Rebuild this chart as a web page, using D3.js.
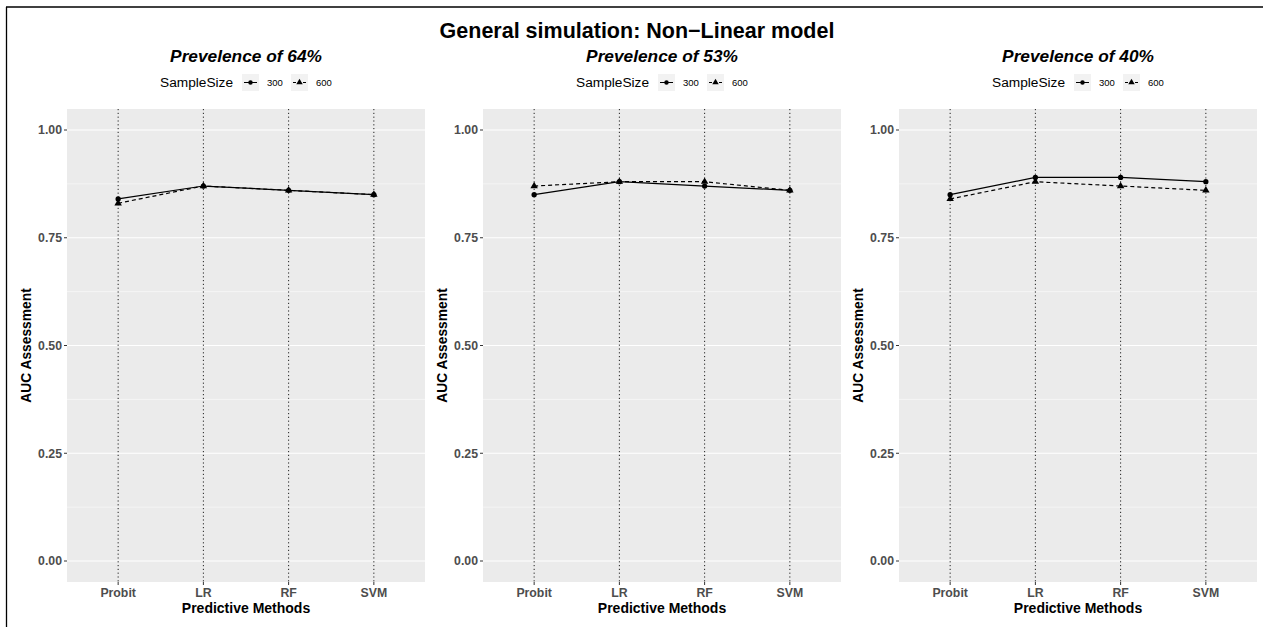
<!DOCTYPE html>
<html>
<head>
<meta charset="utf-8">
<script src="https://cdn.jsdelivr.net/npm/d3@7"></script>
<style>
    body { margin: 0; background: #fff; }
    svg text { font-family: "Liberation Sans", Arial, sans-serif; }
    .grid-major { stroke: #fff; stroke-width: 1.1; }
    .grid-minor { stroke: #fff; stroke-width: 0.5; }
    .vline { stroke: #222; stroke-width: 1; stroke-dasharray: 1.2 2.6; }
    .tick-label { font-size: 12.3px; font-weight: bold; fill: #4d4d4d; }
</style>
</head>
<body>
<div class="chart"></div>
<script>
    const methods = ["Probit", "LR", "RF", "SVM"];
    const panelTitles = ["Prevelence of 64%", "Prevelence of 53%", "Prevelence of 40%"];
    const sampleSizes = ["300", "600"];
    const yTicks = [0, 0.25, 0.5, 0.75, 1];

    // AUC per panel, per sample size
    const auc300 = [
        [0.84, 0.87, 0.86, 0.85],
        [0.85, 0.88, 0.87, 0.86],
        [0.85, 0.89, 0.89, 0.88]
    ];
    const auc600 = [
        [0.83, 0.87, 0.86, 0.85],
        [0.87, 0.88, 0.88, 0.86],
        [0.84, 0.88, 0.87, 0.86]
    ];

    (function () {
    const width = 1270, height = 627;
    const svg = d3.select(".chart").append("svg")
        .attr("width", width)
        .attr("height", height);

    // outer frame (top + left only)
    svg.append("line").attr("x1", 6).attr("x2", 1263).attr("y1", 7).attr("y2", 7)
        .attr("stroke", "#000").attr("stroke-width", 1.3);
    svg.append("line").attr("x1", 6.5).attr("x2", 6.5).attr("y1", 7).attr("y2", height)
        .attr("stroke", "#000").attr("stroke-width", 1.3);

    svg.append("text")
        .attr("x", 637).attr("y", 38)
        .attr("text-anchor", "middle")
        .style("font-size", "21.5px").style("font-weight", "bold")
        .text("General simulation: Non\u2212Linear model");

    const panelLefts = [67, 483, 899];
    const panelW = 358;
    const plotTop = 109, plotBottom = 582;

    const y = d3.scaleLinear().domain([0, 1]).range([561, 130]);
    const minor = [0.125, 0.375, 0.625, 0.875];

    panelTitles.forEach(function (title, i) {
        const x0 = panelLefts[i];
        const g = svg.append("g");
        const x = d3.scalePoint().domain(methods)
            .range([x0, x0 + panelW]).padding(0.6);
        const cx = x0 + panelW / 2;

        g.append("text")
            .attr("x", cx).attr("y", 61.5)
            .attr("text-anchor", "middle")
            .style("font-size", "17.3px").style("font-weight", "bold").style("font-style", "italic")
            .text(title);

        // legend
        const lg = g.append("g").attr("transform", "translate(" + (cx - 86) + ",0)");
        lg.append("text").attr("x", 0).attr("y", 87)
            .style("font-size", "13.7px").text("SampleSize");
        sampleSizes.forEach(function (s, k) {
            const kx = 82 + k * 49;
            lg.append("rect").attr("x", kx).attr("y", 74).attr("width", 17).attr("height", 17)
                .attr("fill", "#f2f2f2");
            lg.append("line").attr("x1", kx + 2).attr("x2", kx + 15).attr("y1", 82.5).attr("y2", 82.5)
                .attr("stroke", "#000").attr("stroke-width", 1)
                .attr("stroke-dasharray", k === 0 ? null : "3 2");
            lg.append("path")
                .attr("transform", "translate(" + (kx + 8.5) + ",82.5)")
                .attr("d", d3.symbol().type(k === 0 ? d3.symbolCircle : d3.symbolTriangle).size(k === 0 ? 16 : 18)());
            lg.append("text").attr("x", kx + 25).attr("y", 86)
                .style("font-size", "9.5px").text(s);
        });

        // panel background
        g.append("rect").attr("x", x0).attr("y", plotTop)
            .attr("width", panelW).attr("height", plotBottom - plotTop)
            .attr("fill", "#ebebeb");

        g.selectAll("line.grid-minor").data(minor).enter().append("line")
            .attr("class", "grid-minor")
            .attr("x1", x0).attr("x2", x0 + panelW)
            .attr("y1", function (d) { return y(d); })
            .attr("y2", function (d) { return y(d); });

        g.selectAll("line.grid-major").data(yTicks).enter().append("line")
            .attr("class", "grid-major")
            .attr("x1", x0).attr("x2", x0 + panelW)
            .attr("y1", function (d) { return y(d); })
            .attr("y2", function (d) { return y(d); });

        g.selectAll("line.vline").data(methods).enter().append("line")
            .attr("class", "vline")
            .attr("x1", function (d) { return x(d); })
            .attr("x2", function (d) { return x(d); })
            .attr("y1", plotTop).attr("y2", plotBottom);

        // y axis ticks + labels
        yTicks.forEach(function (t) {
            g.append("line").attr("x1", x0 - 3).attr("x2", x0)
                .attr("y1", y(t)).attr("y2", y(t)).attr("stroke", "#333").attr("stroke-width", 1);
            g.append("text").attr("class", "tick-label")
                .attr("x", x0 - 5).attr("y", y(t) + 4.3)
                .attr("text-anchor", "end")
                .text(d3.format(".2f")(t));
        });

        // x axis ticks + labels
        methods.forEach(function (m) {
            g.append("line").attr("x1", x(m)).attr("x2", x(m))
                .attr("y1", plotBottom).attr("y2", plotBottom + 3).attr("stroke", "#333").attr("stroke-width", 1);
            g.append("text").attr("class", "tick-label")
                .attr("x", x(m)).attr("y", plotBottom + 14.5)
                .attr("text-anchor", "middle")
                .text(m);
        });

        g.append("text")
            .attr("x", cx).attr("y", 613)
            .attr("text-anchor", "middle")
            .style("font-size", "14px").style("font-weight", "bold")
            .text("Predictive Methods");

        g.append("text")
            .attr("transform", "translate(" + (x0 - 36) + "," + ((plotTop + plotBottom) / 2) + ") rotate(-90)")
            .attr("text-anchor", "middle")
            .style("font-size", "13.8px").style("font-weight", "bold")
            .text("AUC Assessment");

        // series
        const series = [
            {vals: auc300[i], dash: null, sym: d3.symbolCircle, size: 22},
            {vals: auc600[i], dash: "4 3", sym: d3.symbolTriangle, size: 24}
        ];
        const line = d3.line()
            .x(function (d, j) { return x(methods[j]); })
            .y(function (d) { return y(d); });

        series.slice().reverse().forEach(function (s) {
            g.append("path")
                .attr("d", line(s.vals))
                .attr("fill", "none")
                .attr("stroke", "#000")
                .attr("stroke-width", 1.2)
                .attr("stroke-dasharray", s.dash);
            g.selectAll(null).data(s.vals).enter().append("path")
                .attr("transform", function (d, j) { return "translate(" + x(methods[j]) + "," + y(d) + ")"; })
                .attr("d", d3.symbol().type(s.sym).size(s.size)());
        });
    });
    })();
</script>
</body>
</html>
